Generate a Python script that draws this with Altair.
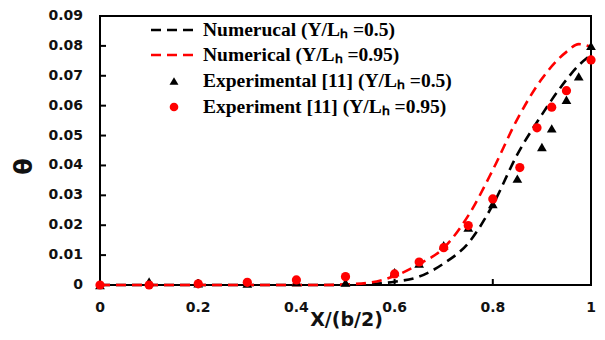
import altair as alt
import pandas as pd

# Numerical curves
num_x = [0.0, 0.05, 0.1, 0.15, 0.2, 0.25, 0.3, 0.35, 0.4, 0.45, 0.5, 0.55, 0.6, 0.65, 0.7, 0.75, 0.8, 0.85, 0.9, 0.95, 0.975, 1.0]
num_05 = [0, 0, 0, 0, 0, 0, 0, 0, 0, 0, 0, 0.0003, 0.0011, 0.0028, 0.0072, 0.014, 0.0268, 0.0437, 0.057, 0.0687, 0.0735, 0.077]
num_095 = [0, 0, 0, 0, 0, 0, 0, 0, 0, 0, 0.0002, 0.0008, 0.003, 0.007, 0.0124, 0.0232, 0.0385, 0.0555, 0.069, 0.078, 0.0806, 0.0796]

# Experimental points
exp05_x = [0.0, 0.1, 0.2, 0.3, 0.4, 0.5, 0.6, 0.65, 0.7, 0.75, 0.8, 0.85, 0.9, 0.92, 0.95, 0.975, 1.0]
exp05_y = [0.0, 0.0012, 0.0006, 0.0005, 0.001, 0.0008, 0.0043, 0.0072, 0.0133, 0.0192, 0.0271, 0.0356, 0.0462, 0.0524, 0.062, 0.0698, 0.080]
exp095_x = [0.0, 0.1, 0.2, 0.3, 0.4, 0.5, 0.6, 0.65, 0.7, 0.75, 0.8, 0.855, 0.89, 0.92, 0.95, 1.0]
exp095_y = [0.0, 0.0, 0.0004, 0.0009, 0.0017, 0.0028, 0.0037, 0.0077, 0.0125, 0.0199, 0.0288, 0.0393, 0.0526, 0.0595, 0.065, 0.0753]

# Axes
x_domain = [0, 1]
y_domain = [0, 0.09]
x_ticks = [0, 0.2, 0.4, 0.6, 0.8, 1]
x_tick_labels = ["0", "0.2", "0.4", "0.6", "0.8", "1"]
y_ticks = [0, 0.01, 0.02, 0.03, 0.04, 0.05, 0.06, 0.07, 0.08, 0.09]
y_tick_labels = ["0", "0.01", "0.02", "0.03", "0.04", "0.05", "0.06", "0.07", "0.08", "0.09"]
x_inner_ticks = [0.2, 0.4, 0.6, 0.8]
y_inner_ticks = [0.01, 0.02, 0.03, 0.04, 0.05, 0.06, 0.07, 0.08]

legend_labels = [
    "Numerucal (Y/L\u2095 =0.5)",
    "Numerical (Y/L\u2095 =0.95)",
    "Experimental [11] (Y/L\u2095 =0.5)",
    "Experiment [11]  (Y/L\u2095 =0.95)",
]

W, H = 491, 269

df_num = pd.DataFrame({"x": num_x + num_x,
                       "y": num_05 + num_095,
                       "s": ["a"] * len(num_x) + ["b"] * len(num_x)})
df_e05 = pd.DataFrame({"x": exp05_x, "y": exp05_y})
df_e095 = pd.DataFrame({"x": exp095_x, "y": exp095_y})

xs = alt.Scale(domain=x_domain, nice=False, zero=False)
ys = alt.Scale(domain=y_domain, nice=False, zero=False)

xax = alt.Axis(labels=False, domain=False, ticks=False, grid=False, title="X/(b/2)",
               titleFont="DejaVu Sans", titleFontWeight="bold", titleFontSize=19,
               titleColor="#111", titleX=246, titleY=34, titleBaseline="middle",
               titleAlign="center")
yax = alt.Axis(labels=False, domain=False, ticks=False, grid=False, title="θ",
               titleFont="DejaVu Sans", titleFontWeight="bold", titleFontSize=24,
               titleColor="#111", titleX=-76, titleY=150, titleAngle=-90,
               titleBaseline="middle", titleAlign="center")

X = alt.X("x:Q", scale=xs, axis=xax)
Y = alt.Y("y:Q", scale=ys, axis=yax)
X2 = alt.X2("x2:Q")
Y2 = alt.Y2("y2:Q")

line_b = alt.Chart(df_num).transform_filter("datum.s == 'a'").mark_line(
    color="black", strokeWidth=2.6, strokeDash=[10, 6], interpolate="monotone"
).encode(x=X, y=Y)

line_r = alt.Chart(df_num).transform_filter("datum.s == 'b'").mark_line(
    color="#ff0000", strokeWidth=2.6, strokeDash=[10, 6], interpolate="monotone"
).encode(x=X, y=Y)

tri = alt.Chart(df_e05).mark_point(shape="triangle-up", filled=True, color="black",
                                   size=95, opacity=1).encode(x=X, y=Y)
circ = alt.Chart(df_e095).mark_point(shape="circle", filled=True, color="#ff0000",
                                     size=85, opacity=1).encode(x=X, y=Y)

# frame: four thin filled bars along the scale-domain edges
x0, x1 = x_domain
y0, y1 = y_domain
frame_df = pd.DataFrame({
    "x":  [x0, x1, x0, x0],
    "x2": [x0, x1, x1, x1],
    "y":  [y0, y0, y0, y1],
    "y2": [y1, y1, y0, y1],
})
frame = alt.Chart(frame_df).mark_rect(
    color="black", opacity=1, xOffset=-1, x2Offset=1, yOffset=1, y2Offset=-1
).encode(x=X, x2=X2, y=Y, y2=Y2)

# inward ticks as small filled bars
yt_df = pd.DataFrame({"x": [x0] * len(y_inner_ticks), "x2": [x0] * len(y_inner_ticks),
                      "y": y_inner_ticks, "y2": y_inner_ticks})
yt = alt.Chart(yt_df).mark_rect(
    color="black", opacity=1, xOffset=0, x2Offset=6, yOffset=1, y2Offset=-1
).encode(x=X, x2=X2, y=Y, y2=Y2)
xt_df = pd.DataFrame({"x": x_inner_ticks, "x2": x_inner_ticks,
                      "y": [y0] * len(x_inner_ticks), "y2": [y0] * len(x_inner_ticks)})
xt = alt.Chart(xt_df).mark_rect(
    color="black", opacity=1, xOffset=-1, x2Offset=1, yOffset=0, y2Offset=-6
).encode(x=X, x2=X2, y=Y, y2=Y2)

# tick labels
lbl_style = dict(font="DejaVu Sans", fontWeight="bold", fontSize=14, color="#111")
xl = alt.Chart(pd.DataFrame({"x": x_ticks, "t": x_tick_labels})).mark_text(
    align="center", baseline="top", **lbl_style).encode(
    x=X, y=alt.value(H + 16), text="t:N")
yl = alt.Chart(pd.DataFrame({"y": y_ticks, "t": y_tick_labels})).mark_text(
    align="right", baseline="middle", **lbl_style).encode(
    y=Y, x=alt.value(-17), text="t:N")

one = alt.Data(values=[{}])
leg_x0, leg_x1, sym_x, txt_x = 51, 94, 74, 103
rows = [14, 39, 65, 91]
leg = [
    alt.Chart(one).mark_rule(color="black", strokeWidth=2.6, strokeDash=[10, 6]).encode(
        x=alt.value(leg_x0), x2=alt.value(leg_x1), y=alt.value(rows[0])),
    alt.Chart(one).mark_rule(color="#ff0000", strokeWidth=2.6, strokeDash=[10, 6]).encode(
        x=alt.value(leg_x0), x2=alt.value(leg_x1), y=alt.value(rows[1])),
    alt.Chart(one).mark_point(shape="triangle-up", filled=True, color="black", size=80, opacity=1).encode(
        x=alt.value(sym_x), y=alt.value(rows[2])),
    alt.Chart(one).mark_point(shape="circle", filled=True, color="#ff0000", size=75, opacity=1).encode(
        x=alt.value(sym_x), y=alt.value(rows[3])),
]
for i, lab in enumerate(legend_labels):
    leg.append(alt.Chart(one).mark_text(
        font="Liberation Serif", fontWeight="bold", fontSize=19.5, color="black",
        align="left", baseline="middle").encode(
        x=alt.value(txt_x), y=alt.value(rows[i]), text=alt.value(lab)))

chart = alt.layer(frame, yt, xt, line_b, line_r, tri, circ, xl, yl, *leg).properties(
    width=W, height=H,
    background="white",
    autosize=alt.AutoSizeParams(type="none"),
    padding={"left": 92, "top": 8, "right": 6, "bottom": 45},
).configure_view(stroke=None)

chart.save("out.html", embed_options={"renderer": "svg", "actions": False})
